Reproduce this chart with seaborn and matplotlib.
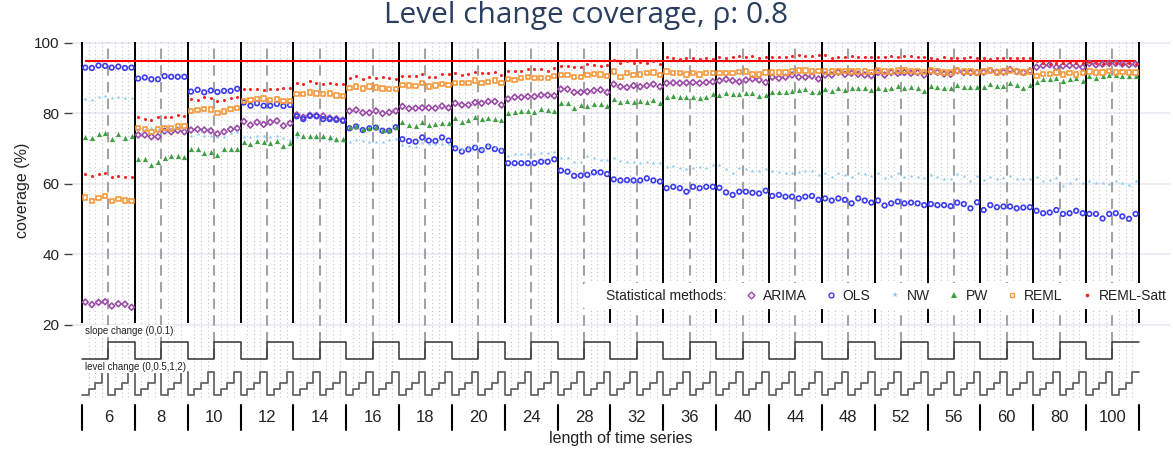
import numpy as np
import pandas as pd
import matplotlib
matplotlib.use("Agg")
import matplotlib.pyplot as plt
import matplotlib.transforms as mtransforms
from matplotlib.lines import Line2D
import seaborn as sns

# ---- design factors (nested loop order: length > slope change > level change)
lengths = [6, 8, 10, 12, 14, 16, 18, 20, 24, 28, 32, 36, 40, 44, 48, 52, 56, 60, 80, 100]
slope_changes = [0, 0.1]
level_changes = [0, 0.5, 1, 2]
methods = ["ARIMA", "OLS", "NW", "PW", "REML", "REML-Satt"]

# ---- coverage (%) per method, one row of 8 per series length
arima = [
    26.5, 25.8, 26.4, 26.6, 25.4, 26.0, 25.9, 25.0,
    73.9, 73.9, 73.4, 73.4, 75.0, 74.8, 75.2, 74.8,
    75.3, 75.5, 75.3, 75.1, 74.2, 74.8, 75.5, 75.8,
    77.7, 76.7, 77.5, 76.9, 77.5, 77.9, 76.5, 77.2,
    79.6, 78.9, 79.5, 79.4, 79.3, 78.7, 78.5, 78.1,
    80.7, 81.0, 80.2, 80.2, 80.7, 80.0, 80.3, 80.7,
    82.0, 81.4, 81.5, 81.6, 81.6, 81.5, 82.1, 81.6,
    82.9, 82.4, 82.4, 83.1, 82.9, 83.4, 83.4, 82.4,
    84.1, 84.6, 84.6, 84.8, 84.8, 85.2, 85.2, 85.0,
    86.9, 86.9, 86.0, 86.0, 86.2, 86.5, 86.7, 86.0,
    88.3, 87.6, 87.4, 87.9, 87.6, 87.9, 88.3, 87.6,
    88.6, 88.7, 88.6, 88.7, 88.8, 88.6, 88.8, 89.0,
    89.3, 89.7, 89.3, 89.0, 89.5, 89.8, 89.5, 88.8,
    90.3, 90.0, 90.3, 90.9, 90.3, 90.3, 90.6, 89.8,
    90.9, 90.9, 91.7, 91.1, 91.4, 91.1, 90.9, 90.7,
    91.6, 90.9, 91.6, 91.4, 91.6, 91.4, 91.6, 90.9,
    91.9, 91.7, 91.2, 91.1, 92.1, 91.6, 91.6, 91.6,
    91.7, 92.2, 91.7, 91.7, 92.5, 91.9, 91.6, 92.1,
    93.1, 93.6, 93.8, 93.1, 93.5, 93.6, 93.5, 93.1,
    94.2, 93.8, 94.0, 94.2, 94.2, 94.0, 93.8, 94.0,
]
ols = [
    93.0, 92.9, 93.6, 93.5, 93.0, 93.3, 92.9, 93.0,
    89.9, 90.2, 89.7, 89.7, 90.6, 90.4, 90.4, 90.4,
    86.2, 86.7, 86.0, 86.5, 86.1, 86.4, 86.4, 87.0,
    83.1, 82.2, 82.9, 82.2, 82.2, 82.7, 82.1, 82.4,
    79.2, 78.4, 79.3, 79.2, 78.4, 78.4, 78.2, 77.9,
    75.8, 76.3, 75.3, 75.8, 76.0, 75.1, 75.1, 76.1,
    72.7, 72.2, 72.0, 73.2, 72.3, 72.2, 73.2, 72.3,
    70.1, 69.2, 69.8, 70.3, 69.6, 70.6, 69.9, 69.4,
    65.9, 65.9, 65.9, 65.9, 65.9, 66.3, 66.3, 67.0,
    63.8, 63.5, 62.3, 62.4, 62.6, 63.3, 63.3, 62.8,
    61.3, 61.0, 61.1, 61.0, 61.0, 61.6, 61.0, 60.7,
    58.8, 59.2, 58.8, 57.8, 59.2, 58.8, 59.2, 59.2,
    58.9, 57.6, 56.9, 57.8, 57.8, 57.5, 57.3, 58.1,
    56.6, 56.9, 56.4, 56.4, 55.9, 56.4, 56.6, 55.5,
    55.9, 55.3, 55.9, 55.5, 54.5, 55.9, 55.3, 54.7,
    55.3, 53.9, 54.5, 55.0, 54.5, 54.7, 54.5, 54.0,
    54.3, 54.0, 54.0, 53.7, 54.7, 54.3, 53.1, 54.8,
    52.6, 54.0, 53.4, 53.6, 53.6, 53.1, 53.3, 53.4,
    52.4, 51.7, 51.9, 52.6, 51.5, 51.7, 52.4, 51.7,
    51.5, 51.5, 50.2, 51.5, 51.7, 50.8, 50.1, 51.5,
]
nw = [
    84.2, 83.8, 84.6, 85.0, 84.3, 84.8, 84.4, 84.3,
    75.5, 75.2, 75.8, 75.3, 75.0, 75.5, 75.8, 76.0,
    73.7, 74.2, 73.5, 73.5, 73.4, 73.3, 74.5, 74.7,
    73.4, 73.4, 73.6, 73.6, 73.4, 73.7, 73.0, 72.5,
    73.2, 73.2, 73.0, 73.0, 72.9, 72.5, 72.3, 72.3,
    71.8, 72.5, 72.3, 72.0, 72.0, 71.8, 72.5, 72.7,
    71.1, 70.8, 70.4, 71.5, 71.3, 71.3, 71.3, 71.3,
    70.6, 69.8, 70.3, 70.8, 70.0, 71.0, 70.4, 69.9,
    67.9, 68.4, 68.4, 68.4, 68.4, 68.7, 68.7, 69.0,
    67.5, 67.5, 66.3, 66.3, 67.9, 67.3, 66.8, 66.8,
    67.5, 66.5, 66.3, 66.1, 65.9, 66.3, 66.0, 65.9,
    64.7, 65.1, 64.4, 64.2, 64.4, 64.9, 64.6, 65.4,
    65.4, 64.2, 63.0, 64.4, 64.2, 63.8, 63.8, 64.2,
    63.8, 63.5, 63.0, 63.2, 63.5, 63.8, 63.8, 62.6,
    63.2, 62.1, 63.2, 62.6, 62.1, 63.2, 62.8, 62.3,
    63.0, 61.6, 62.3, 63.2, 62.1, 62.3, 62.1, 61.8,
    62.6, 62.1, 61.3, 61.3, 62.7, 62.3, 60.9, 62.3,
    61.1, 62.1, 61.3, 61.6, 62.3, 61.3, 61.3, 61.3,
    61.9, 60.7, 61.1, 61.6, 59.4, 60.4, 61.3, 60.4,
    60.7, 60.4, 60.4, 60.0, 60.9, 60.4, 59.7, 60.7,
]
pw = [
    73.4, 72.9, 74.1, 74.4, 72.8, 74.2, 73.0, 73.7,
    67.0, 67.0, 65.4, 66.1, 67.3, 67.8, 67.8, 67.6,
    69.8, 69.8, 68.9, 69.1, 68.2, 69.8, 69.9, 69.9,
    71.8, 71.3, 72.3, 71.8, 71.5, 72.2, 70.8, 71.5,
    74.4, 73.6, 73.7, 73.7, 73.6, 73.2, 72.8, 72.8,
    76.1, 76.5, 75.5, 75.8, 76.1, 75.3, 75.3, 76.3,
    77.5, 76.6, 76.5, 77.5, 76.7, 77.0, 77.2, 77.2,
    78.6, 77.7, 78.2, 78.9, 78.4, 78.6, 78.3, 78.2,
    80.2, 80.5, 80.7, 80.7, 80.5, 81.2, 81.0, 80.8,
    83.1, 82.9, 81.5, 82.4, 82.2, 82.7, 82.6, 82.0,
    84.1, 83.3, 83.5, 83.3, 83.5, 83.3, 83.8, 82.9,
    84.8, 85.0, 84.6, 84.6, 84.6, 84.3, 84.6, 85.4,
    85.2, 85.7, 85.5, 85.5, 85.9, 85.9, 85.0, 85.3,
    86.2, 86.0, 86.2, 86.5, 86.7, 87.0, 86.2, 86.0,
    86.9, 86.4, 87.3, 86.7, 87.1, 87.3, 87.3, 86.7,
    87.3, 86.9, 87.1, 87.8, 87.3, 87.6, 87.1, 86.5,
    87.9, 87.6, 87.1, 87.1, 88.1, 87.4, 87.6, 87.6,
    87.6, 88.3, 87.8, 87.8, 88.6, 88.1, 87.1, 88.1,
    88.8, 89.7, 89.7, 90.0, 89.3, 89.7, 90.0, 89.3,
    90.6, 90.0, 90.6, 90.9, 90.9, 90.6, 90.6, 90.6,
]
reml = [
    56.2, 55.2, 56.1, 56.6, 55.1, 55.7, 55.3, 55.1,
    75.9, 75.6, 74.7, 75.4, 75.9, 75.7, 76.3, 76.5,
    80.7, 80.9, 81.2, 81.1, 80.1, 80.6, 81.2, 81.5,
    83.6, 83.8, 84.1, 84.2, 83.8, 84.0, 83.5, 83.6,
    85.5, 85.5, 86.0, 85.7, 85.5, 85.7, 85.1, 85.0,
    87.3, 87.6, 87.1, 87.6, 87.4, 87.1, 87.0, 87.0,
    88.1, 87.9, 87.8, 88.6, 87.6, 87.9, 88.4, 88.1,
    88.7, 88.6, 88.7, 89.3, 88.7, 89.0, 89.3, 88.6,
    89.8, 89.5, 90.0, 90.3, 90.0, 90.0, 90.0, 90.6,
    90.9, 90.9, 90.3, 90.3, 90.9, 91.2, 91.1, 90.6,
    91.9, 90.4, 91.4, 90.9, 91.1, 91.4, 91.6, 90.9,
    91.9, 91.4, 91.4, 91.1, 91.4, 91.1, 91.4, 91.4,
    91.4, 91.4, 91.4, 91.7, 91.9, 91.1, 91.1, 91.6,
    91.6, 91.6, 91.6, 91.9, 92.2, 92.2, 91.9, 92.1,
    91.9, 91.9, 91.9, 92.1, 91.9, 91.9, 91.9, 91.7,
    92.2, 91.9, 91.9, 92.2, 92.2, 92.1, 91.9, 91.7,
    92.2, 91.9, 91.6, 91.6, 92.2, 91.9, 91.9, 91.6,
    91.9, 92.2, 91.6, 91.9, 92.2, 91.9, 91.6, 91.9,
    90.6, 91.2, 91.2, 91.6, 91.1, 91.4, 91.1, 91.4,
    91.9, 91.6, 91.6, 92.1, 91.6, 91.7, 91.6, 91.6,
]
reml_satt = [
    62.7, 62.3, 62.7, 63.0, 61.9, 62.3, 62.1, 61.9,
    78.9, 78.5, 78.2, 79.0, 79.0, 79.0, 79.5, 79.3,
    84.1, 83.8, 84.7, 84.5, 83.4, 83.8, 84.5, 84.8,
    86.9, 86.9, 87.0, 86.7, 87.0, 87.0, 87.2, 87.3,
    88.6, 88.4, 89.1, 88.7, 88.4, 88.7, 88.3, 88.4,
    90.0, 90.5, 89.8, 90.2, 90.0, 90.2, 90.0, 89.8,
    90.6, 90.6, 90.6, 91.1, 90.2, 90.2, 91.1, 91.1,
    91.4, 90.9, 91.2, 91.9, 91.4, 91.6, 91.7, 90.9,
    92.1, 92.1, 92.1, 92.5, 92.5, 92.5, 92.1, 92.8,
    93.6, 93.6, 93.3, 93.1, 94.0, 93.8, 93.5, 93.8,
    95.2, 94.4, 94.9, 94.2, 94.7, 94.4, 94.9, 94.0,
    96.1, 95.6, 95.5, 95.6, 95.6, 95.5, 95.6, 95.4,
    95.9, 95.6, 95.9, 96.3, 96.1, 96.3, 95.6, 95.9,
    96.1, 96.1, 96.1, 96.3, 96.6, 96.3, 96.3, 96.6,
    96.6, 95.6, 96.1, 95.9, 96.3, 96.1, 96.1, 95.9,
    96.1, 95.9, 96.3, 96.1, 96.3, 96.3, 96.1, 95.9,
    95.6, 95.4, 96.0, 95.6, 95.6, 95.6, 96.1, 95.6,
    95.6, 95.4, 95.6, 95.6, 95.6, 95.6, 95.6, 95.6,
    94.9, 94.4, 94.0, 94.4, 94.4, 94.7, 94.4, 94.4,
    94.7, 94.4, 94.0, 94.4, 94.4, 94.0, 94.4, 94.0,
]
nominal = 95

# ---- long-form table
design = pd.DataFrame(
    [(n, s, l) for n in lengths for s in slope_changes for l in level_changes],
    columns=["length", "slope", "level"],
)
design["pos"] = np.arange(len(design)) + 0.5
frames = []
for name, vals in zip(methods, [arima, ols, nw, pw, reml, reml_satt]):
    d = design.copy()
    d["method"] = name
    d["coverage"] = vals
    frames.append(d)
df = pd.concat(frames, ignore_index=True)

# ---- styling
sns.set_theme(style="white")
plt.rcParams["font.family"] = ["Liberation Sans", "DejaVu Sans"]

colors = {"ARIMA": "#9A4BA6", "OLS": "#3B3BF2", "NW": "#8DC9EE",
          "PW": "#3FA043", "REML": "#F7983A", "REML-Satt": "#F52525"}
styles = {
    "ARIMA": dict(marker="D", s=9, hollow=True, lw=1.2, ms=3.5),
    "OLS": dict(marker="o", s=11, hollow=True, lw=1.2, ms=3.5),
    "NW": dict(marker="*", s=9, hollow=False, lw=0, ms=4),
    "PW": dict(marker="^", s=14, hollow=False, lw=0, ms=4),
    "REML": dict(marker="s", s=10, hollow=True, lw=1.2, ms=3.5),
    "REML-Satt": dict(marker="o", s=5, hollow=False, lw=0, ms=2.6),
}

n_cells = len(design)
group_w = len(slope_changes) * len(level_changes)
half_w = len(level_changes)

fig = plt.figure(figsize=(11.73, 4.5), dpi=100)
ax = fig.add_axes([0.0614, 0.1149, 0.936, 0.792])
ax.set_xlim(-1.51, 164.7)
ax.set_ylim(-0.8, 100.3)

# horizontal grid
for yv in [20, 40, 60, 80, 100]:
    ax.axhline(yv, color="#E8EDF3", lw=1.3, zorder=0)

top = 100.3
# dotted lines at the level-change cells
for g in range(len(lengths)):
    for k in range(1, group_w):
        if k == half_w:
            continue
        ax.vlines(g * group_w + k, -0.5, top, color="#C4C4C4", lw=0.8,
                  linestyles=(0, (1, 2.5)), zorder=1)
# dashed lines at slope-change boundaries
for g in range(len(lengths)):
    ax.vlines(g * group_w + half_w, 10.3, top, color="#A3A3A3", lw=1.5,
              linestyles=(0, (5, 3)), zorder=1)
# solid lines between series lengths
for g in range(len(lengths) + 1):
    ax.vlines(g * group_w, 20.5, top, color="black", lw=1.4, zorder=2)

# nominal coverage level
ax.hlines(nominal, design["pos"].iloc[0], design["pos"].iloc[-1], color="#FF0000", lw=1.5, zorder=3)

# points
for m in methods:
    st = styles[m]
    sub = df[df["method"] == m]
    c = colors[m]
    sns.scatterplot(data=sub, x="pos", y="coverage", ax=ax, marker=st["marker"],
                    s=st["s"], color=c, facecolor="none" if st["hollow"] else c,
                    edgecolor=c, linewidth=st["lw"], legend=False, zorder=5)

# step functions describing the design below the data
edges = np.arange(n_cells + 1)
slope_y = 10.3 + 48 * design["slope"].to_numpy()
level_y = 0.1 + 3.3 * design["level"].to_numpy()
ax.step(edges, np.append(slope_y, slope_y[-1]), where="post", color="#333333", lw=1.1, zorder=3)
ax.step(edges, np.append(level_y, level_y[-1]), where="post", color="#666666", lw=1.3, zorder=3)
ax.text(0.5, 18.3, "slope change (0,0.1)", fontsize=7, va="center", ha="left",
        color="#222222", zorder=6, bbox=dict(facecolor="white", edgecolor="none", pad=0.5))
ax.text(0.5, 8.1, "level change (0,0.5,1,2)", fontsize=7, va="center", ha="left",
        color="#222222", zorder=6, bbox=dict(facecolor="white", edgecolor="none", pad=0.5))

# axes cosmetics
for sp in ax.spines.values():
    sp.set_visible(False)
ax.set_xticks([])
ax.set_yticks([20, 40, 60, 80, 100])
ax.tick_params(axis="y", which="major", left=True, length=6, width=1, color="#444444",
               labelsize=11, pad=3, labelcolor="#222222")
ax.set_xlabel("")
ax.set_ylabel("coverage (%)", fontsize=11.5, color="#222222")
ax.yaxis.set_label_coords(-0.0455, 0.584)
ax.yaxis.label.set_va("center")

# series-length labels under the plot
trans = mtransforms.blended_transform_factory(ax.transData, fig.transFigure)
for g, n in enumerate(lengths):
    ax.text(g * group_w + half_w, 1 - 418 / 450, str(n), transform=trans,
            ha="center", va="center", fontsize=12, color="#222222", clip_on=False)
for g in range(len(lengths) + 1):
    ax.plot([g * group_w, g * group_w], [1 - 430 / 450, 1 - 405 / 450], transform=trans,
            color="black", lw=1.5, clip_on=False)
fig.text(621 / 1173, 1 - 438 / 450, "length of time series", ha="center", va="center",
         fontsize=11.5, color="#222222")

# legend
handles = [Line2D([], [], linestyle="none", marker=None)]
labels = ["Statistical methods:"]
for m in methods:
    st = styles[m]
    c = colors[m]
    handles.append(Line2D([], [], linestyle="none", marker=st["marker"], markersize=st["ms"],
                          markerfacecolor="none" if st["hollow"] else c,
                          markeredgecolor=c, markeredgewidth=1.0 if st["hollow"] else 0))
    labels.append(m)
leg = ax.legend(handles, labels, ncol=7, loc="center right", bbox_to_anchor=(1.002, 0.287),
                frameon=True, facecolor="white", edgecolor="none", framealpha=1,
                fontsize=10, handlelength=0.8, handletextpad=0.45, columnspacing=1.35,
                borderaxespad=0, borderpad=0.4)
leg.set_zorder(10)
for t in leg.get_texts():
    t.set_color("#222222")

fig.suptitle("Level change coverage, ρ: 0.8", x=0.5, y=1 - 16 / 450, va="center",
             fontsize=21.5, color="#2A3F5F", family=["Open Sans", "DejaVu Sans"])

fig.savefig("out.png", dpi=100)
